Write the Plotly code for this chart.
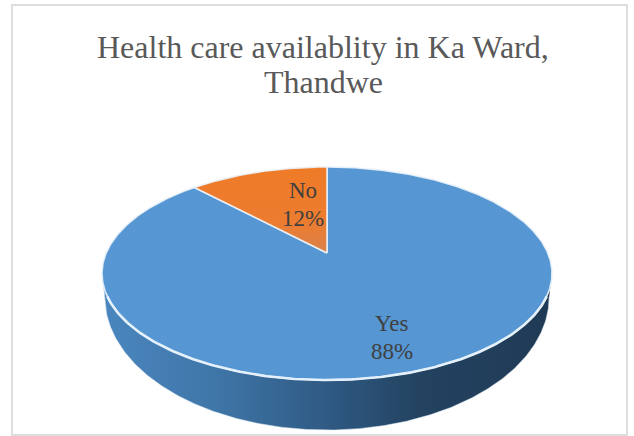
import numpy as np
import plotly.graph_objects as go

TITLE_LINES = ["Health care availablity in Ka Ward,", "Thandwe"]
labels = ["Yes", "No"]
values = [88, 12]
slice_colors = ["#5596d3", "#ef7b27"]

W, H = 634, 436
CX, P = 327.0, 0.1925
TOP = dict(a=220.8, b=102.6, y0=253.0)
BOTTOM = dict(a=218.0, b=128.0, y0=271.5)


def project(theta_deg, g):
    t = np.radians(theta_deg)
    u, v = np.sin(t), np.cos(t)
    d = 1 + P * v
    return CX + g["a"] * u / d, g["y0"] - g["b"] * v / d


def arc(a0, a1, g):
    n = max(int(abs(a1 - a0)) * 2, 2)
    return project(np.linspace(a0, a1, n), g)


fig = go.Figure()

# side wall
edge = np.degrees(np.arccos(-P))
tx, ty = arc(edge, 360 - edge, TOP)
bx, by = arc(360 - edge, edge, BOTTOM)
fig.add_trace(go.Scatter(
    x=np.r_[tx, bx], y=np.r_[ty, by], mode="lines", fill="toself",
    line=dict(color="rgba(220,236,248,0.5)", width=1),
    fillgradient=dict(type="horizontal", colorscale=[
        [0, "#4a86bf"], [0.25, "#3f76a8"], [0.5, "#2f5a84"],
        [0.7, "#234361"], [1, "#203a55"]]),
    hoverinfo="skip", showlegend=False))

# top slices
total = sum(values)
angle = 0.0
for lab, val, col in zip(labels, values, slice_colors):
    sweep = 360.0 * val / total
    ax, ay = arc(angle, angle + sweep, TOP)
    x = np.r_[CX, ax, CX]
    y = np.r_[TOP["y0"], ay, TOP["y0"]]
    kw = dict(fillcolor=col)
    if lab == "No":
        kw = dict(fillgradient=dict(type="vertical", colorscale=[
            [0, "#d9824c"], [0.35, "#ec7c30"], [1, col]]))
    fig.add_trace(go.Scatter(
        x=x, y=y, mode="lines", fill="toself",
        line=dict(color="rgba(235,243,250,0.9)", width=1.6),
        name=lab, hoverinfo="name", showlegend=False, **kw))
    angle += sweep

# light rim along the near edge
rx, ry = arc(113, 247, TOP)
fig.add_trace(go.Scatter(x=rx, y=ry, mode="lines",
                         line=dict(color="#e4f0fa", width=2.6),
                         hoverinfo="skip", showlegend=False))

LABEL_POS = {"Yes": (392, 323), "No": (303, 190)}
LABEL_FONT = dict(family="Liberation Serif", size=23, color="#404040")
annotations = []
for l, v in zip(labels, values):
    px, py = LABEL_POS[l]
    annotations.append(dict(x=px, y=py, xref="x", yref="y", text=l,
                            showarrow=False, font=LABEL_FONT))
    annotations.append(dict(x=px, y=py + 28.5, xref="x", yref="y", text=f"{v}%",
                            showarrow=False, font=LABEL_FONT))
TITLE_FONT = dict(family="Liberation Serif", size=32, color="#595959")
for i, line in enumerate(TITLE_LINES):
    annotations.append(dict(x=323, y=47 + 35 * i, xref="x", yref="y", text=line,
                            showarrow=False, font=TITLE_FONT))

fig.update_layout(
    width=W, height=H, margin=dict(l=0, r=0, t=0, b=0),
    paper_bgcolor="white", plot_bgcolor="white",
    xaxis=dict(range=[0, W], visible=False, fixedrange=True),
    yaxis=dict(range=[H, 0], visible=False, fixedrange=True),
    annotations=annotations,
    shapes=[dict(type="rect", x0=12, y0=5, x1=627, y1=435, xref="x", yref="y",
                 line=dict(color="#dedede", width=2), layer="below")],
)
fig.write_html("out.html", config=dict(displayModeBar=False),
               post_script="document.body.style.margin='0';document.body.style.overflow='hidden';")
